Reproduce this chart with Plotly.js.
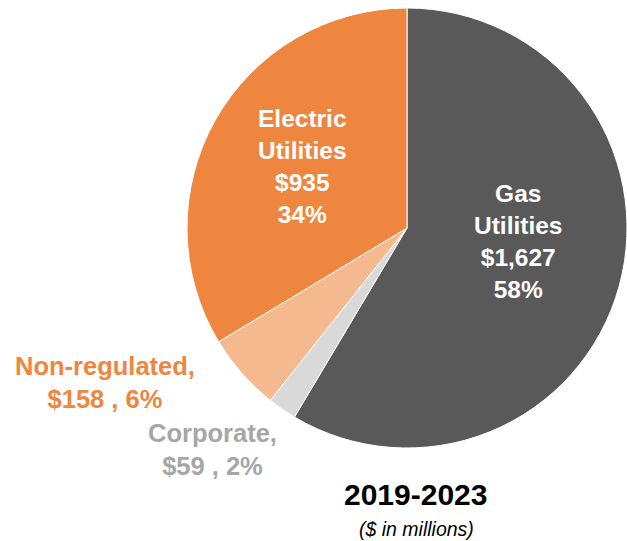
<!DOCTYPE html>
<html>
<head>
<meta charset="utf-8">
<script src="https://cdn.plot.ly/plotly-3.0.1.min.js"></script>
<style>
  html, body { margin: 0; padding: 0; background: #fff; }
  #chart { width: 627px; height: 541px; }
</style>
</head>
<body>
<div id="chart"></div>
<script>
// capital plan by segment, 2019-2023 ($ in millions)
const segments = ['Gas Utilities', 'Corporate', 'Non-regulated', 'Electric Utilities'];
const labelLines = ['Gas<br>Utilities', 'Corporate,', 'Non-regulated,', 'Electric<br>Utilities'];
const values = [1627, 59, 158, 935];
const shares = ['58%', '2%', '6%', '34%'];
const colors = ['#595959', '#D9D9D9', '#F4B98F', '#EE8640'];

const W = 627, H = 541;
const px = (x) => x / W;
const py = (y) => 1 - y / H;
const FONT = 'Liberation Sans, Arial, sans-serif';

const fmt = (v) => '$' + v.toLocaleString('en-US');

const trace = {
  type: 'pie',
  labels: segments,
  values: values,
  sort: false,
  direction: 'clockwise',
  rotation: 0,
  marker: { colors: colors, line: { color: '#ffffff', width: 1 } },
  textinfo: 'none',
  hoverinfo: 'none',
  domain: { x: [px(187), px(627)], y: [py(448), py(8)] },
  automargin: false
};

// label placement, one per slice
const labelPos = [
  { x: 518, y: 241, color: '#ffffff', inside: true },
  { x: 212, y: 449, color: '#A6A6A6', inside: false },
  { x: 105, y: 382, color: '#EE8640', inside: false },
  { x: 302, y: 166, color: '#ffffff', inside: true }
];

const annotations = labelPos.map((p, i) => ({
  xref: 'paper', yref: 'paper',
  x: px(p.x), y: py(p.y),
  xanchor: 'center', yanchor: 'middle',
  showarrow: false,
  align: 'center',
  text: p.inside
    ? labelLines[i] + '<br>' + fmt(values[i]) + '<br>' + shares[i]
    : labelLines[i] + '<br>' + fmt(values[i]) + ' , ' + shares[i],
  font: { family: FONT, size: p.inside ? 24.5 : 25.5, color: p.color, weight: 'bold' }
}));

annotations.push({
  xref: 'paper', yref: 'paper', x: px(415), y: py(494),
  xanchor: 'center', yanchor: 'middle', showarrow: false,
  text: '<b>2019-2023</b>',
  font: { family: FONT, size: 30, color: '#000000' }
});
annotations.push({
  xref: 'paper', yref: 'paper', x: px(416), y: py(529),
  xanchor: 'center', yanchor: 'middle', showarrow: false,
  text: '<i>($ in millions)</i>',
  font: { family: FONT, size: 19.5, color: '#000000' }
});

const layout = {
  width: W,
  height: H,
  margin: { l: 0, r: 0, t: 0, b: 0 },
  paper_bgcolor: '#ffffff',
  showlegend: false,
  annotations: annotations
};

Plotly.newPlot('chart', [trace], layout, { displayModeBar: false, staticPlot: true });
</script>
</body>
</html>
